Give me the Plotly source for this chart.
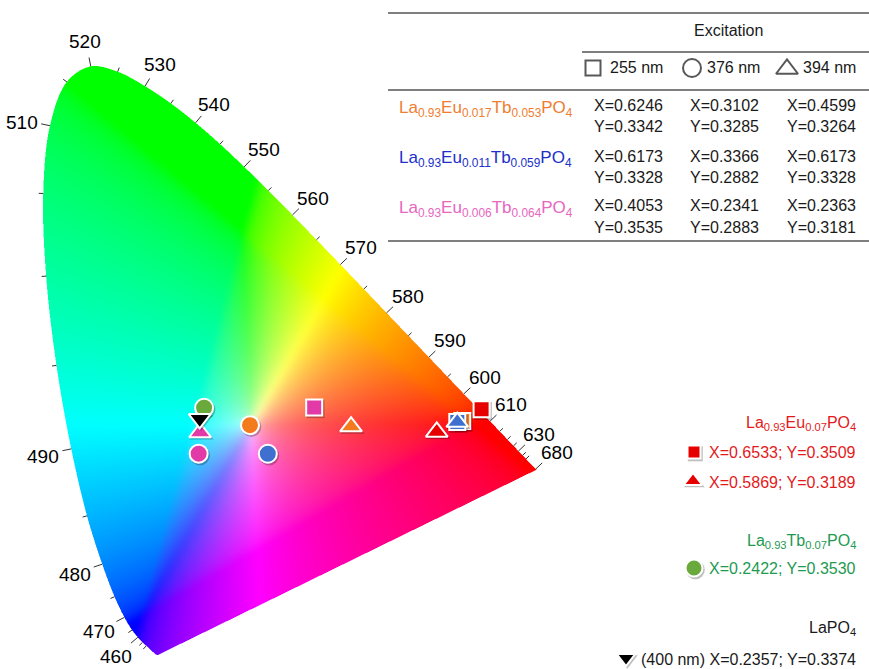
import base64
import struct
import zlib

import numpy as np
import plotly.graph_objects as go

# ---------------- CIE 1931 2° spectral locus, 380-700 nm in 5 nm steps ----------------
wavelengths = list(range(380, 705, 5))
locus_x = [0.1741, 0.1740, 0.1738, 0.1736, 0.1733, 0.1730, 0.1726, 0.1721, 0.1714, 0.1703,
           0.1689, 0.1669, 0.1644, 0.1611, 0.1566, 0.1510, 0.1440, 0.1355, 0.1241, 0.1096,
           0.0913, 0.0687, 0.0454, 0.0235, 0.0082, 0.0039, 0.0139, 0.0389, 0.0743, 0.1142,
           0.1547, 0.1929, 0.2296, 0.2658, 0.3016, 0.3373, 0.3731, 0.4087, 0.4441, 0.4788,
           0.5125, 0.5448, 0.5752, 0.6029, 0.6270, 0.6482, 0.6658, 0.6801, 0.6915, 0.7006,
           0.7079, 0.7140, 0.7190, 0.7230, 0.7260, 0.7283, 0.7300, 0.7311, 0.7320, 0.7327,
           0.7334, 0.7340, 0.7344, 0.7346, 0.7347]
locus_y = [0.0050, 0.0050, 0.0049, 0.0049, 0.0048, 0.0048, 0.0048, 0.0048, 0.0051, 0.0058,
           0.0069, 0.0086, 0.0109, 0.0138, 0.0177, 0.0227, 0.0297, 0.0399, 0.0578, 0.0868,
           0.1327, 0.2007, 0.2950, 0.4127, 0.5384, 0.6548, 0.7502, 0.8120, 0.8338, 0.8262,
           0.8059, 0.7816, 0.7543, 0.7243, 0.6923, 0.6589, 0.6245, 0.5896, 0.5547, 0.5202,
           0.4866, 0.4544, 0.4242, 0.3965, 0.3725, 0.3514, 0.3340, 0.3197, 0.3083, 0.2993,
           0.2920, 0.2859, 0.2809, 0.2770, 0.2740, 0.2717, 0.2700, 0.2689, 0.2680, 0.2673,
           0.2666, 0.2660, 0.2656, 0.2654, 0.2653]

tick_wavelengths = list(range(450, 645, 5)) + [680]
label_wavelengths = [460, 470, 480, 490, 510, 520, 530, 540, 550, 560, 570, 580, 590, 600,
                     610, 630, 680]

# ---------------- measured chromaticity coordinates ----------------
mixed_samples = ["La<sub>0.93</sub>Eu<sub>0.017</sub>Tb<sub>0.053</sub>PO<sub>4</sub>",
                 "La<sub>0.93</sub>Eu<sub>0.011</sub>Tb<sub>0.059</sub>PO<sub>4</sub>",
                 "La<sub>0.93</sub>Eu<sub>0.006</sub>Tb<sub>0.064</sub>PO<sub>4</sub>"]
sample_colors = ["#EE7D31", "#2030C8", "#E866C0"]
marker_colors = ["#F47A1E", "#3F6FCF", "#E23AA6"]
excitation_labels = ["255 nm", "376 nm", "394 nm"]
excitation_symbols = ["square", "circle", "triangle-up"]
x_255 = [0.6246, 0.6173, 0.4053]
y_255 = [0.3342, 0.3328, 0.3535]
x_376 = [0.3102, 0.3366, 0.2341]
y_376 = [0.3285, 0.2882, 0.2883]
x_394 = [0.4599, 0.6173, 0.2363]
y_394 = [0.3264, 0.3328, 0.3181]

eu_name = "La<sub>0.93</sub>Eu<sub>0.07</sub>PO<sub>4</sub>"
eu_x = [0.6533, 0.5869]
eu_y = [0.3509, 0.3189]
eu_symbols = ["square", "triangle-up"]
tb_name = "La<sub>0.93</sub>Tb<sub>0.07</sub>PO<sub>4</sub>"
tb_x = [0.2422]
tb_y = [0.3530]
la_name = "LaPO<sub>4</sub>"
la_note = "(400 nm)"
la_x = [0.2357]
la_y = [0.3374]

# ---------------- canvas geometry ----------------
W, H = 869, 669
X_RANGE = (-0.06017, 1.22724)
Y_RANGE = (-0.01498, 0.92728)
XS = W / (X_RANGE[1] - X_RANGE[0])   # pixels per x unit
YS = H / (Y_RANGE[1] - Y_RANGE[0])   # pixels per y unit


def to_px(x, y):
    px = (np.asarray(x, float) - X_RANGE[0]) * XS
    py = (Y_RANGE[1] - np.asarray(y, float)) * YS
    return px, py


def to_data(px, py):
    x = X_RANGE[0] + np.asarray(px, float) / XS
    y = Y_RANGE[1] - np.asarray(py, float) / YS
    return x, y


def paper(px, py):
    return px / W, 1 - py / H


def smooth_curve(pts, steps=12):
    """Centripetal Catmull-Rom rendering of an open polyline (used for the fill outline)."""
    keep = [pts[0]]
    for p in pts[1:]:
        if np.hypot(*(p - keep[-1])) > 0.6:
            keep.append(p)
    P = np.array(keep)
    P = np.vstack([2 * P[0] - P[1], P, 2 * P[-1] - P[-2]])
    out = []
    for i in range(1, len(P) - 2):
        p0, p1, p2, p3 = P[i - 1], P[i], P[i + 1], P[i + 2]
        t0 = 0.0
        t1 = t0 + np.hypot(*(p1 - p0)) ** 0.5
        t2 = t1 + np.hypot(*(p2 - p1)) ** 0.5
        t3 = t2 + np.hypot(*(p3 - p2)) ** 0.5
        for t in np.linspace(t1, t2, steps, endpoint=False):
            a1 = (t1 - t) / (t1 - t0) * p0 + (t - t0) / (t1 - t0) * p1
            a2 = (t2 - t) / (t2 - t1) * p1 + (t - t1) / (t2 - t1) * p2
            a3 = (t3 - t) / (t3 - t2) * p2 + (t - t2) / (t3 - t2) * p3
            b1 = (t2 - t) / (t2 - t0) * a1 + (t - t0) / (t2 - t0) * a2
            b2 = (t3 - t) / (t3 - t1) * a2 + (t - t1) / (t3 - t1) * a3
            out.append((t2 - t) / (t2 - t1) * b1 + (t - t1) / (t2 - t1) * b2)
    out.append(P[-2])
    return np.array(out)


def inside(px, py, vx, vy):
    res = np.zeros(px.shape, bool)
    j = len(vx) - 1
    for i in range(len(vx)):
        xi, yi, xj, yj = vx[i], vy[i], vx[j], vy[j]
        if yi != yj:
            cross = ((yi > py) != (yj > py)) & (px < (xj - xi) * (py - yi) / (yj - yi) + xi)
            res ^= cross
        j = i
    return res


def gaussian_blur(arr, sigma):
    r = int(3 * sigma)
    k = np.exp(-np.arange(-r, r + 1) ** 2 / (2 * sigma ** 2))
    k /= k.sum()
    out = arr
    for axis in (1, 2):
        pad = [(0, 0)] * 3
        pad[axis] = (r, r)
        p = np.pad(out, pad, mode="edge")
        n = out.shape[axis]
        acc = np.zeros_like(out)
        for j, w in enumerate(k):
            sl = [slice(None)] * 3
            sl[axis] = slice(j, j + n)
            acc += w * p[tuple(sl)]
        out = acc
    return out


def png_data_uri(rgba):
    h, w, _ = rgba.shape
    raw = b"".join(b"\x00" + rgba[r].tobytes() for r in range(h))

    def chunk(tag, data):
        body = tag + data
        return struct.pack(">I", len(data)) + body + struct.pack(">I", zlib.crc32(body) & 0xFFFFFFFF)

    ihdr = struct.pack(">IIBBBBB", w, h, 8, 6, 0, 0, 0)
    png = (b"\x89PNG\r\n\x1a\n" + chunk(b"IHDR", ihdr) +
           chunk(b"IDAT", zlib.compress(raw, 9)) + chunk(b"IEND", b""))
    return "data:image/png;base64," + base64.b64encode(png).decode()


# ---------------- chromaticity fill ----------------
lpx, lpy = to_px(locus_x, locus_y)
outline = smooth_curve(np.column_stack([lpx, lpy]))

C0, C1, R0, R1 = 20, 585, 40, 669
ss = 2
sub = (np.arange(ss) + 0.5) / ss
gx = (np.arange(C0, C1)[:, None] + sub[None, :]).ravel()
gy = (np.arange(R0, R1)[:, None] + sub[None, :]).ravel()
SPX, SPY = np.meshgrid(gx, gy)
mask = inside(SPX, SPY, outline[:, 0], outline[:, 1]).astype(float)
alpha = mask.reshape(R1 - R0, ss, C1 - C0, ss).mean(axis=(1, 3))

CPX, CPY = np.meshgrid(np.arange(C0, C1) + 0.5, np.arange(R0, R1) + 0.5)
cx, cy = to_data(CPX, CPY)
cy = np.maximum(cy, 1e-3)
XYZ = np.stack([cx / cy, np.ones_like(cx), (1 - cx - cy) / cy])
M = np.array([[3.2406, -1.5372, -0.4986],
              [-0.9689, 1.8758, 0.0415],
              [0.0557, -0.2040, 1.0570]])
rgb = np.einsum("ij,jhw->ihw", M, XYZ)
rgb = np.clip(rgb, 0, None)
rgb = rgb / np.maximum(rgb.max(axis=0, keepdims=True), 1e-9)
rgb = np.where(rgb <= 0.0031308, 12.92 * rgb, 1.055 * np.power(rgb, 1 / 2.4) - 0.055)
rgb = np.nan_to_num(np.clip(rgb, 0, 1))
# push saturation up around the white point, keeping hue
sat = 1 - rgb.min(axis=0)
sat_new = sat ** 0.42
gain = np.where(sat > 1e-6, sat_new / np.maximum(sat, 1e-6), 0.0)
rgb = np.clip(1 - (1 - rgb) * gain, 0, 1)
rgb = gaussian_blur(rgb, 3.0)

rgba = np.zeros((R1 - R0, C1 - C0, 4), np.uint8)
rgba[..., :3] = np.round(np.moveaxis(rgb, 0, -1) * 255).astype(np.uint8)
rgba[..., 3] = np.round(alpha * 255).astype(np.uint8)

img_x0, img_y0 = to_data(C0, R0)
img_x1, img_y1 = to_data(C1, R1)

fig = go.Figure()

# ---------------- wavelength ticks and labels ----------------
tick_xs, tick_ys = [], []
annotations = []
tick_font = dict(family="Liberation Sans, Arial, sans-serif", size=19, color="#000000")
for wl in tick_wavelengths:
    i = wavelengths.index(wl)
    step = 2 if wl >= 620 else 1
    a, b = max(i - step, 0), min(i + step, len(wavelengths) - 1)
    tx, ty = lpx[b] - lpx[a], lpy[b] - lpy[a]
    norm = np.hypot(tx, ty)
    nx, ny = ty / norm, -tx / norm
    length = 9 if wl in label_wavelengths else 4.5
    ex, ey = to_data([lpx[i], lpx[i] + nx * length], [lpy[i], lpy[i] + ny * length])
    tick_xs += list(ex) + [None]
    tick_ys += list(ey) + [None]
    if wl in label_wavelengths:
        lx, ly = to_data(lpx[i] + nx * 29, lpy[i] + ny * 27 + 2)
        annotations.append(dict(x=float(lx), y=float(ly), xref="x", yref="y", text=str(wl),
                                showarrow=False, xanchor="center", yanchor="middle",
                                font=tick_font))

fig.add_trace(go.Scatter(x=tick_xs, y=tick_ys, mode="lines",
                         line=dict(color="#333333", width=1), hoverinfo="skip"))

# ---------------- chromaticity points ----------------
SHADOW_PX = (1.3, 1.8)


def add_points(xs, ys, symbols, color, size_map, overlay=False):
    sizes = [size_map[s] for s in symbols]
    if overlay:
        sx = [v + SHADOW_PX[0] for v in xs]
        sy = [v + SHADOW_PX[1] for v in ys]
        axes = dict(xaxis="x2", yaxis="y2")
    else:
        sx = [v + SHADOW_PX[0] / XS for v in xs]
        sy = [v - SHADOW_PX[1] / YS for v in ys]
        axes = dict(xaxis="x", yaxis="y")
    fig.add_trace(go.Scatter(
        x=sx, y=sy, mode="markers", hoverinfo="skip", **axes,
        marker=dict(symbol=symbols, size=[s + 2 for s in sizes], color="rgba(0,0,0,0.25)",
                    opacity=1, line=dict(width=0))))
    fig.add_trace(go.Scatter(
        x=xs, y=ys, mode="markers", **axes,
        marker=dict(symbol=symbols, size=sizes, color=color, opacity=1,
                    line=dict(color="white", width=2))))


size_map = {"square": 16, "circle": 18, "triangle-up": 19, "triangle-down": 19}
for k in range(3):
    add_points([x_255[k], x_376[k], x_394[k]], [y_255[k], y_376[k], y_394[k]],
               excitation_symbols, marker_colors[k], size_map)
add_points(eu_x, eu_y, eu_symbols, "#E60000", size_map)
add_points(tb_x, tb_y, ["circle"], "#6AAA3C", size_map)
add_points(la_x, la_y, ["triangle-down"], "#000000", size_map)

# ---------------- text blocks (pixel-based layout) ----------------
base_font = dict(family="Liberation Sans, Arial, sans-serif", size=16, color="#1a1a1a")


def text(px, py, s, color="#1a1a1a", anchor="left", size=16, align="left"):
    xp, yp = paper(px, py)
    annotations.append(dict(x=xp, y=yp, xref="paper", yref="paper", text=s, showarrow=False,
                            xanchor=anchor, yanchor="middle", align=align,
                            font=dict(base_font, color=color, size=size)))


# table
text(728, 30, "Excitation", anchor="center")
header_px = [(593, 68), (692, 68), (787, 69)]
header_text_x = [608, 705, 801]
for k in range(3):
    text(header_text_x[k], 67, excitation_labels[k])
row_py = [108, 158, 208]
col_px = [592, 688, 785]
for k in range(3):
    text(397, row_py[k] + 1, mixed_samples[k], color=sample_colors[k], size=17)
    for c, (xs, ys) in enumerate([(x_255, y_255), (x_376, y_376), (x_394, y_394)]):
        text(col_px[c], row_py[k] - 2, f"X={xs[k]:.4f}")
        text(col_px[c], row_py[k] + 19, f"Y={ys[k]:.4f}")

# right-hand key
red_txt, green_txt = "#E31A1C", "#1E9A52"
text(858, 423, eu_name, color=red_txt, anchor="right")
text(858, 452, f"X={eu_x[0]:.4f}; Y={eu_y[0]:.4f}", color=red_txt, anchor="right")
text(858, 482, f"X={eu_x[1]:.4f}; Y={eu_y[1]:.4f}", color=red_txt, anchor="right")
text(858, 541, tb_name, color=green_txt, anchor="right")
text(858, 568, f"X={tb_x[0]:.4f}; Y={tb_y[0]:.4f}", color=green_txt, anchor="right")
text(858, 628, la_name, anchor="right")
text(858, 659, f"{la_note} X={la_x[0]:.4f}; Y={la_y[0]:.4f}", anchor="right")

# key / header symbols on a pixel-space overlay
fig.add_trace(go.Scatter(
    x=[p[0] for p in header_px], y=[p[1] for p in header_px], mode="markers",
    xaxis="x2", yaxis="y2", hoverinfo="skip",
    marker=dict(symbol=["square-open", "circle-open", "triangle-up-open"], size=[15, 18, 19],
                color="#111111", line=dict(width=2, color="#111111"))))
key_size = {"square": 13, "circle": 17, "triangle-up": 16, "triangle-down": 16}
add_points([694, 693], [452, 481], eu_symbols, "#E60000", key_size, overlay=True)
add_points([694], [568], ["circle"], "#6AAA3C", key_size, overlay=True)
add_points([626], [658], ["triangle-down"], "#000000", key_size, overlay=True)

# table rules
line_style = dict(color="#555555", width=1.6)
shapes = []
for (xa, xb, yy) in [(388, 869, 13), (582, 869, 52), (388, 869, 90), (388, 869, 241)]:
    x0p, y0p = paper(xa, yy)
    x1p, _ = paper(xb, yy)
    shapes.append(dict(type="line", xref="paper", yref="paper", x0=x0p, x1=x1p, y0=y0p, y1=y0p,
                       line=line_style))

fig.update_layout(
    width=W, height=H,
    margin=dict(l=0, r=0, t=0, b=0, pad=0),
    paper_bgcolor="white", plot_bgcolor="white",
    showlegend=False,
    xaxis=dict(range=list(X_RANGE), visible=False, fixedrange=True),
    yaxis=dict(range=list(Y_RANGE), visible=False, fixedrange=True),
    xaxis2=dict(range=[0, W], visible=False, overlaying="x", fixedrange=True),
    yaxis2=dict(range=[H, 0], visible=False, overlaying="y", fixedrange=True),
    images=[dict(source=png_data_uri(rgba), xref="x", yref="y",
                 x=float(img_x0), y=float(img_y0),
                 sizex=float(img_x1 - img_x0), sizey=float(img_y0 - img_y1),
                 xanchor="left", yanchor="top", sizing="stretch", layer="below")],
    annotations=annotations,
    shapes=shapes,
)
fig.update_traces(cliponaxis=False)

fig.write_html("out.html")
